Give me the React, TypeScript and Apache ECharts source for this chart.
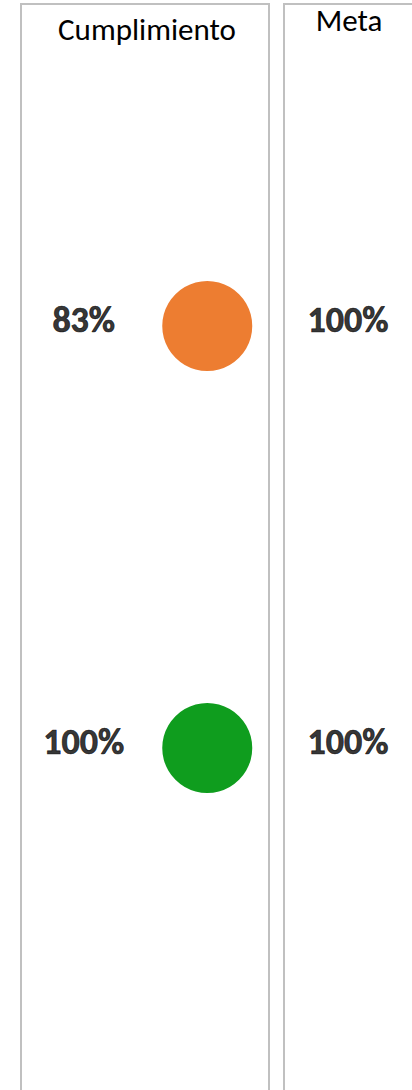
import React, { useEffect, useRef } from "react";
import * as echarts from "echarts";

const indicators = ["Indicador 1", "Indicador 2"];
const cumplimiento = [83, 100];
const meta = [100, 100];
const columnTitles = ["Cumplimiento", "Meta"];

const ORANGE = "#ED7D31";
const GREEN = "#0F9D1E";
const FONT = "Carlito, Calibri, Lato, sans-serif";

export default function App() {
  const ref = useRef<HTMLDivElement>(null);
  useEffect(() => {
    if (!ref.current) return;
    const chart = echarts.init(ref.current, undefined, { renderer: "svg" });
    const valueLabel = {
      show: true,
      position: "inside",
      formatter: (p: any) => p.value[2] + "%",
      fontFamily: FONT,
      fontWeight: "bold",
      fontSize: 36,
      color: "#000",
      textBorderColor: "#000",
      textBorderWidth: 0.7,
      offset: [0, -6],
    };
    chart.setOption({
      animation: false,
      backgroundColor: "#fff",
      graphic: [
        {
          type: "rect",
          shape: { x: 21, y: 4, width: 248, height: 1200 },
          style: { fill: "none", stroke: "#c0c0c0", lineWidth: 2 },
          z: 0,
        },
        {
          type: "rect",
          shape: { x: 284, y: 4, width: 200, height: 1200 },
          style: { fill: "none", stroke: "#c0c0c0", lineWidth: 2 },
          z: 0,
        },
        {
          type: "text",
          x: 147,
          y: 29,
          style: {
            text: columnTitles[0],
            fontFamily: FONT,
            fontSize: 31,
            fill: "#000",
            align: "center",
            verticalAlign: "middle",
          },
        },
        {
          type: "text",
          x: 349,
          y: 20,
          style: {
            text: columnTitles[1],
            fontFamily: FONT,
            fontSize: 31,
            fill: "#000",
            align: "center",
            verticalAlign: "middle",
          },
        },
      ],
      grid: [
        { left: 22, width: 247, top: 115, height: 844 },
        { left: 284, width: 128, top: 115, height: 844 },
      ],
      xAxis: [
        { type: "category", gridIndex: 0, data: ["valor", "semaforo"], show: false },
        { type: "category", gridIndex: 1, data: ["meta"], show: false },
      ],
      yAxis: [
        { type: "category", gridIndex: 0, data: indicators, inverse: true, show: false },
        { type: "category", gridIndex: 1, data: indicators, inverse: true, show: false },
      ],
      series: [
        {
          type: "scatter",
          xAxisIndex: 0,
          yAxisIndex: 0,
          symbolSize: 90,
          data: cumplimiento.map((v, i) => ({
            value: ["semaforo", indicators[i], v],
            itemStyle: { color: v >= meta[i] ? GREEN : ORANGE, opacity: 1 },
          })),
          emphasis: { disabled: true },
        },
        {
          type: "scatter",
          xAxisIndex: 0,
          yAxisIndex: 0,
          symbolSize: 1,
          itemStyle: { color: "transparent" },
          label: valueLabel,
          data: cumplimiento.map((v, i) => ["valor", indicators[i], v]),
        },
        {
          type: "scatter",
          xAxisIndex: 1,
          yAxisIndex: 1,
          symbolSize: 1,
          itemStyle: { color: "transparent" },
          label: valueLabel,
          data: meta.map((v, i) => ["meta", indicators[i], v]),
        },
      ],
    });
    return () => chart.dispose();
  }, []);
  return (
    <div
      ref={ref}
      style={{ position: "absolute", left: 0, top: 0, width: 412, height: 1090 }}
    />
  );
}
